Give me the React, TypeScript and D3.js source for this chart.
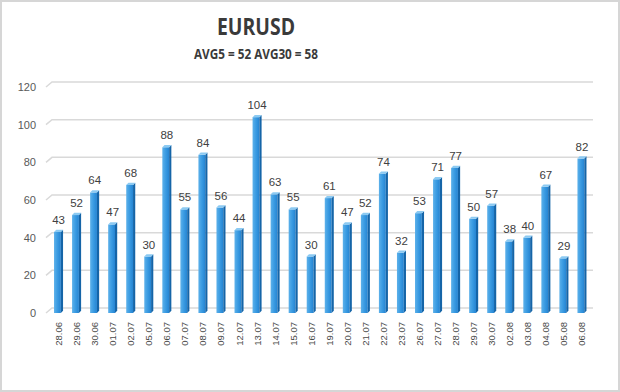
import React from 'react';
import * as d3 from 'd3';

const dates = ['28.06', '29.06', '30.06', '01.07', '02.07', '05.07', '06.07', '07.07', '08.07', '09.07',
  '12.07', '13.07', '14.07', '15.07', '16.07', '19.07', '20.07', '21.07', '22.07', '23.07',
  '26.07', '27.07', '28.07', '29.07', '30.07', '02.08', '03.08', '04.08', '05.08', '06.08'];
const volatility = [43, 52, 64, 47, 68, 30, 88, 55, 84, 56, 44, 104, 63, 55, 30, 61, 47, 52, 74, 32,
  53, 71, 77, 50, 57, 38, 40, 67, 29, 82];
const yTicks = [0, 20, 40, 60, 80, 100, 120];
const title = 'EURUSD';
const subtitle = 'AVG5 = 52 AVG30 = 58';

const W = 620, H = 392;
const depth = 5;   // fake 3D depth of the back wall
const side = 2.2;  // width of the dark bar side

export default function App() {
  const x = d3.scaleBand<string>().domain(dates).range([45, 595.5]).paddingInner(0.5).paddingOuter(0.5);
  const y = d3.scaleLinear().domain([0, 120]).range([313, 87]);
  const bw = x.bandwidth();

  const gridPath = (v: number) => {
    const p = d3.path();
    const yy = y(v);
    p.moveTo(46, yy);
    p.lineTo(46 + depth + 1, yy - depth);
    p.lineTo(593, yy - depth);
    return p.toString();
  };

  return (
    <svg width={W} height={H} style={{ position: 'absolute', left: 0, top: 0, background: '#fff' }}>
      <defs>
        <linearGradient id="front" x1="0" x2="1" y1="0" y2="0">
          <stop offset="0" stopColor="#5db1ea" />
          <stop offset="0.5" stopColor="#3a9be2" />
          <stop offset="1" stopColor="#2584d2" />
        </linearGradient>
      </defs>
      <rect x={1} y={1} width={W - 2} height={H - 2} fill="#fff" stroke="#d6d6d6" strokeWidth={2} />

      <text x={256} y={35} textAnchor="middle" fontFamily="Open Sans" fontWeight="bold" fontSize={24}
        fill="#3a3a3a" textLength={78} lengthAdjust="spacingAndGlyphs">{title}</text>
      <text x={256} y={59} textAnchor="middle" fontFamily="Open Sans" fontWeight="bold" fontSize={15}
        fill="#3a3a3a" textLength={124} lengthAdjust="spacingAndGlyphs">{subtitle}</text>

      {yTicks.map(t => (
        <g key={t}>
          <path d={gridPath(t)} fill="none" stroke="#d9d9d9" strokeWidth={1.5} />
          <text x={36} y={y(t)} dy="0.35em" textAnchor="end" fontFamily="Liberation Sans" fontSize={11}
            fill="#595959">{t}</text>
        </g>
      ))}

      {dates.map((d, i) => {
        const x0 = x(d) as number;
        const top = y(volatility[i]);
        const floor = y(0);
        const fw = bw - side;
        const sidePts = [[x0 + fw, top], [x0 + bw, top - side], [x0 + bw, floor - side], [x0 + fw, floor]];
        const topPts = [[x0, top], [x0 + side, top - side], [x0 + bw, top - side], [x0 + fw, top]];
        return (
          <g key={d}>
            <rect x={x0} y={top} width={fw} height={floor - top} fill="url(#front)" />
            <polygon points={sidePts.map(p => p.join(',')).join(' ')} fill="#1565a8" />
            <polygon points={topPts.map(p => p.join(',')).join(' ')} fill="#8ccaf2" />
            <text x={x0 + bw / 2} y={top - 8} textAnchor="middle" fontFamily="Liberation Sans" fontSize={11.5}
              fill="#404040">{volatility[i]}</text>
            <text transform={`translate(${x0 + bw / 2 + 3.5},322) rotate(-90)`} textAnchor="end"
              fontFamily="Liberation Sans" fontSize={9.5} fill="#4a4a4a">{d}</text>
          </g>
        );
      })}
    </svg>
  );
}
